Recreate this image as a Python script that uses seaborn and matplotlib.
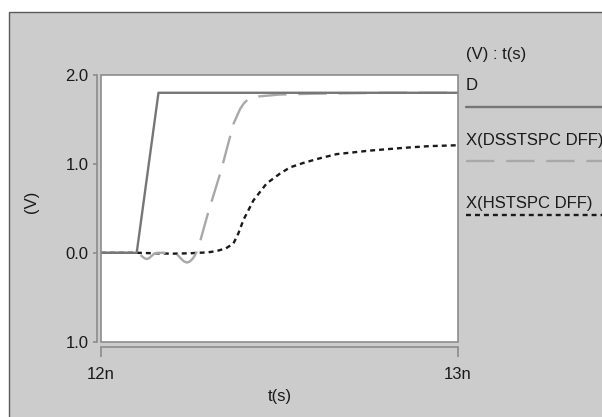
import numpy as np
import pandas as pd
import matplotlib
matplotlib.use("Agg")
import matplotlib.pyplot as plt
from matplotlib.lines import Line2D
from matplotlib.patches import Rectangle
import seaborn as sns

# time axis in ns
t_d = [12.0, 12.100, 12.161, 13.0]
v_d = [0.0, 0.0, 1.80, 1.80]

t_dss = [12.0, 12.098, 12.106, 12.114, 12.121, 12.128, 12.135, 12.142, 12.149, 12.157,
         12.17, 12.20, 12.208, 12.216, 12.224, 12.232, 12.240, 12.248, 12.256, 12.263,
         12.269, 12.275, 12.30, 12.336, 12.371, 12.39, 12.40, 12.41, 12.425, 12.444,
         12.50, 12.60, 12.80, 13.0]
v_dss = [0.0, 0.0, -0.01, -0.035, -0.06, -0.07, -0.06, -0.035, -0.01, 0.0,
         0.0, 0.0, -0.01, -0.03, -0.065, -0.095, -0.11, -0.10, -0.07, -0.03,
         0.02, 0.09, 0.45, 0.92, 1.45, 1.62, 1.68, 1.72, 1.75, 1.76,
         1.78, 1.79, 1.80, 1.80]

t_hst = [12.0, 12.10, 12.15, 12.20, 12.25, 12.30, 12.324, 12.35, 12.371, 12.385,
         12.399, 12.427, 12.464, 12.501, 12.529, 12.566, 12.61, 12.66, 12.754, 12.846,
         12.92, 13.0]
v_hst = [0.0, 0.0, -0.005, -0.01, -0.005, 0.005, 0.02, 0.05, 0.105, 0.22,
         0.37, 0.59, 0.78, 0.89, 0.96, 1.01, 1.06, 1.11, 1.15, 1.18,
         1.20, 1.21]

series_names = ["D", "X(DSSTSPC DFF)", "X(HSTSPC DFF)"]
y_ticks = [-1.0, 0.0, 1.0, 2.0]
y_tick_labels = ["1.0", "0.0", "1.0", "2.0"]
x_ticks = [12.0, 13.0]
x_tick_labels = ["12n", "13n"]

sns.set_theme(style="white")
plt.rcParams['font.family'] = ['Liberation Sans', 'DejaVu Sans']

W, H = 602, 417
fs = 12
fig = plt.figure(figsize=(W / 100, H / 100), dpi=100)
fig.patch.set_facecolor("white")
# grey panel with border (picture is cropped at top/left)
fig.add_artist(Rectangle((9 / W, -0.01), 1.1, 1 - 12 / H + 0.01, transform=fig.transFigure,
                         facecolor="#cccccc", edgecolor="#5a5a5a", linewidth=1.0, zorder=-10))

ax = fig.add_axes([101 / W, 1 - 341.7 / H, 357 / W, 266.7 / H])
ax.set_facecolor("white")

col_d = "#767676"
col_dss = "#a8a8a8"
col_hst = "#1a1a1a"
lw = 1.7
dash_dss = (12, 5)
dash_hst = (2.1, 1.7)

df_d = pd.DataFrame({"t": t_d, "v": v_d})
df_dss = pd.DataFrame({"t": t_dss, "v": v_dss})
df_hst = pd.DataFrame({"t": t_hst, "v": v_hst})

sns.lineplot(data=df_hst, x="t", y="v", ax=ax, color=col_hst, linewidth=lw, sort=False, zorder=3)
ax.lines[-1].set_dashes(dash_hst)
sns.lineplot(data=df_dss, x="t", y="v", ax=ax, color=col_dss, linewidth=lw, sort=False, zorder=4)
ax.lines[-1].set_dashes(dash_dss)
sns.lineplot(data=df_d, x="t", y="v", ax=ax, color=col_d, linewidth=lw, sort=False, zorder=5)

ax.set_xlim(12.0, 13.0)
ax.set_ylim(-1.0, 2.0)

# box around plot region
ax.add_patch(Rectangle((0, 0), 1, 1, transform=ax.transAxes, fill=False,
                       edgecolor="#8c8c8c", linewidth=1.2, clip_on=False, zorder=6))
for s in ["top", "right"]:
    ax.spines[s].set_visible(False)
for s in ["left", "bottom"]:
    ax.spines[s].set_color("#8c8c8c")
    ax.spines[s].set_linewidth(1.2)
ax.spines["left"].set_position(("outward", 3))
ax.spines["bottom"].set_position(("outward", 4))

ax.set_yticks(y_ticks)
ax.set_yticklabels(y_tick_labels)
ax.set_xticks(x_ticks)
ax.set_xticklabels(x_tick_labels)
ax.tick_params(axis="y", direction="out", length=3, width=1.2, color="#8c8c8c",
               pad=3, labelsize=fs, labelcolor="#1a1a1a", left=True)
ax.tick_params(axis="x", direction="out", length=7, width=1.2, color="#8c8c8c",
               pad=7, labelsize=fs, labelcolor="#1a1a1a", bottom=True)

ax.set_xlabel("t(s)", fontsize=fs, color="#1a1a1a")
ax.set_ylabel("(V)", fontsize=fs, color="#1a1a1a")
ax.xaxis.set_label_coords((279.5 - 101) / 357, -(397 - 341.7) / 266.7)
ax.yaxis.set_label_coords(-(101 - 31) / 357, (341.7 - 202) / 266.7)
ax.xaxis.label.set_va("center")
ax.yaxis.label.set_va("center")

# legend, drawn outside on the right
lx = 466 / W
fig.text(lx, 1 - 55 / H, "(V) : t(s)", fontsize=fs, color="#1a1a1a", va="center", ha="left")
legend_rows = [(series_names[0], 85, 106.7, col_d, None),
               (series_names[1], 140, 160.5, col_dss, dash_dss),
               (series_names[2], 203, 214.5, col_hst, dash_hst)]
for name, ty, ly, c, dash in legend_rows:
    fig.text(lx, 1 - ty / H, name, fontsize=fs, color="#1a1a1a", va="center", ha="left")
    ln = Line2D([lx, 1.02], [1 - ly / H, 1 - ly / H], transform=fig.transFigure,
                color=c, linewidth=lw)
    if dash:
        ln.set_dashes(dash)
    fig.add_artist(ln)

fig.savefig("out.png", dpi=100)
